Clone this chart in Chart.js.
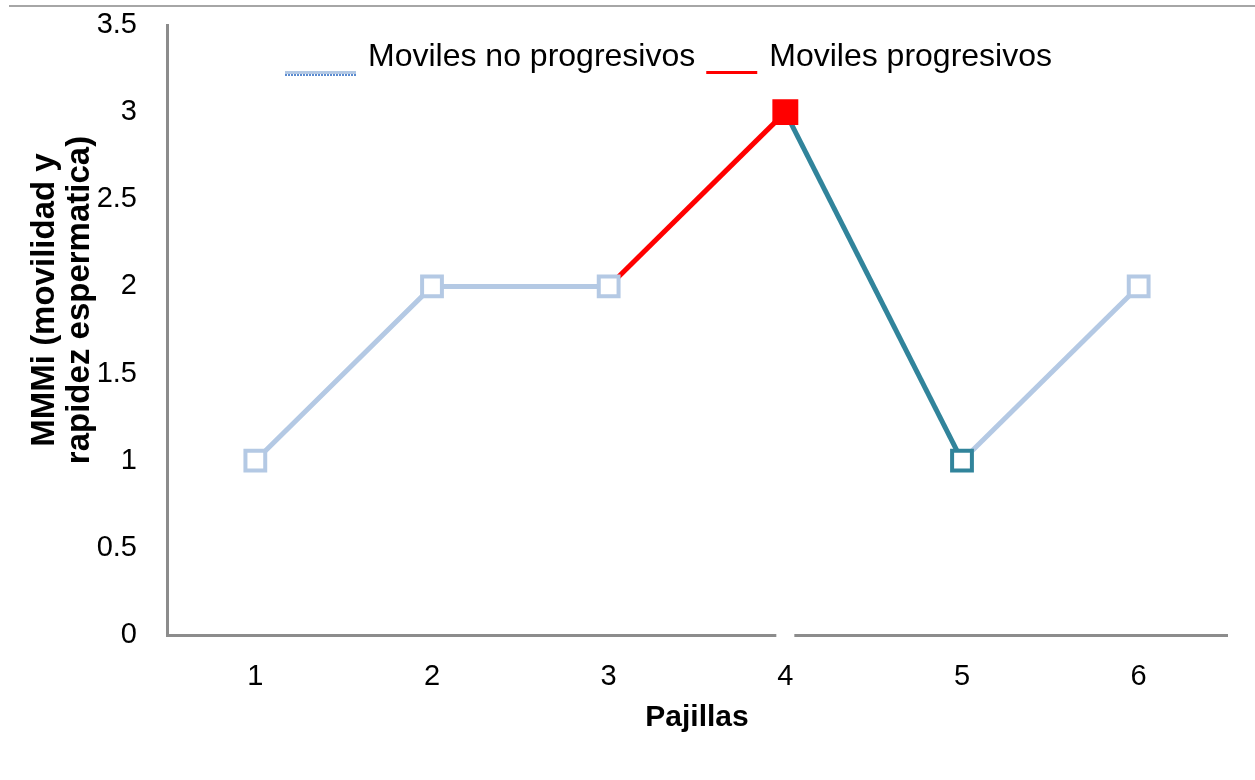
<!DOCTYPE html>
<html>
<head>
<meta charset="utf-8">
<script src="https://cdn.jsdelivr.net/npm/chart.js@4.4.1/dist/chart.umd.min.js"></script>
<style>
  html, body { margin: 0; padding: 0; background: #ffffff; }
  canvas { display: block; }
</style>
</head>
<body>
<canvas id="chart" width="1255" height="780"></canvas>
<script>
// ---- data ----
const pajillas = ['1', '2', '3', '4', '5', '6'];
const noProgresivos = [1, 2, 2, 3, 1, 2];
const progresivos = [null, null, 2, 3, null, null];
const yTicks = [0, 0.5, 1, 1.5, 2, 2.5, 3, 3.5];
const seriesNames = ['Moviles no progresivos', 'Moviles progresivos'];
const xTitle = 'Pajillas';
const yTitle = ['MMMi (movilidad y', 'rapidez espermatica)'];

// ---- styles ----
const LIGHT = '#b4c9e4';
const LIGHT_EDGE = '#5b8bd0';
const TEAL = '#31849b';
const RED = '#ff0000';
const AXIS = '#8c8c8c';
const FONT = "'Liberation Sans', Arial, sans-serif";

// colour of each segment, indexed by the segment's starting point
const segColours = [LIGHT, LIGHT, 'rgba(0,0,0,0)', TEAL, LIGHT];
const ptBorder = [LIGHT, LIGHT, LIGHT, RED, TEAL, LIGHT];
const ptFill = ['#ffffff', '#ffffff', '#ffffff', RED, '#ffffff', '#ffffff'];
const ptRadius = [14, 14, 14, 15.5, 14, 14];

// legend, titles and frame details drawn on the canvas
const decorations = {
  id: 'decorations',
  afterDraw(chart) {
    const ctx = chart.ctx;
    const ca = chart.chartArea;
    const xs = chart.scales.x;
    ctx.save();

    // thin rule across the top
    ctx.strokeStyle = '#a6a6a6';
    ctx.lineWidth = 2;
    ctx.beginPath();
    ctx.moveTo(9, 6);
    ctx.lineTo(chart.width, 6);
    ctx.stroke();

    // small break in the category axis under the peak
    const px = xs.getPixelForValue(3);
    ctx.fillStyle = '#ffffff';
    ctx.fillRect(px - 9, ca.bottom - 4, 18, 8);

    // legend
    ctx.font = '32px ' + FONT;
    ctx.textBaseline = 'middle';
    ctx.textAlign = 'left';
    const yText = ca.top + 32.5;
    const yLine = ca.top + 47.5;
    let x = ca.left + 118;
    const items = [
      { label: seriesNames[0], colour: LIGHT, len: 71, edge: true },
      { label: seriesNames[1], colour: RED, len: 51, edge: false }
    ];
    items.forEach((it) => {
      ctx.lineWidth = 3;
      ctx.strokeStyle = it.colour;
      ctx.beginPath();
      ctx.moveTo(x, yLine);
      ctx.lineTo(x + it.len, yLine);
      ctx.stroke();
      if (it.edge) {
        ctx.lineWidth = 2;
        ctx.strokeStyle = LIGHT_EDGE;
        ctx.setLineDash([2, 1]);
        ctx.beginPath();
        ctx.moveTo(x, yLine + 2.5);
        ctx.lineTo(x + it.len, yLine + 2.5);
        ctx.stroke();
        ctx.setLineDash([]);
      }
      x += it.len + 12;
      ctx.fillStyle = '#000000';
      ctx.fillText(it.label, x, yText);
      x += ctx.measureText(it.label).width + 11;
    });

    // axis titles
    ctx.font = 'bold 30px ' + FONT;
    ctx.textAlign = 'center';
    ctx.fillStyle = '#000000';
    ctx.fillText(xTitle, (ca.left + ca.right) / 2, ca.bottom + 83);

    ctx.translate(0, ca.top + 275);
    ctx.rotate(-Math.PI / 2);
    ctx.font = 'bold 33px ' + FONT;
    ctx.fillText(yTitle[0], 0, 45);
    ctx.fillText(yTitle[1], 0, 80);

    ctx.restore();
  }
};

new Chart(document.getElementById('chart'), {
  type: 'line',
  data: {
    labels: pajillas,
    datasets: [
      {
        label: seriesNames[0],
        data: noProgresivos,
        borderColor: LIGHT,
        borderWidth: 5,
        segment: { borderColor: (c) => segColours[c.p0DataIndex] },
        pointStyle: 'rect',
        pointRadius: ptRadius,
        pointHoverRadius: ptRadius,
        pointBorderWidth: 4,
        pointBorderColor: ptBorder,
        pointBackgroundColor: ptFill,
        tension: 0
      },
      {
        label: seriesNames[1],
        data: progresivos,
        borderColor: RED,
        borderWidth: 5,
        pointRadius: 0,
        pointHoverRadius: 0,
        tension: 0
      }
    ]
  },
  options: {
    responsive: false,
    animation: false,
    events: [],
    layout: { padding: { top: 25, right: 28, left: 0, bottom: 0 } },
    plugins: {
      legend: { display: false },
      tooltip: { enabled: false }
    },
    scales: {
      x: {
        type: 'category',
        offset: true,
        grid: { display: false, drawTicks: false },
        border: { display: true, color: AXIS, width: 3 },
        ticks: { color: '#000000', font: { family: FONT, size: 29 }, padding: 25 },
        afterFit(s) { s.height = 145; }
      },
      y: {
        min: 0,
        max: 3.5,
        grid: { display: false, drawTicks: false },
        border: { display: true, color: AXIS, width: 3 },
        ticks: {
          color: '#000000',
          font: { family: FONT, size: 29 },
          padding: 30,
          callback: (v) => String(v)
        },
        afterBuildTicks(s) { s.ticks = yTicks.map((v) => ({ value: v })); },
        afterFit(s) {
          s.width = 167;
          s.paddingTop = 0;
          s.paddingBottom = 0;
        }
      }
    }
  },
  plugins: [decorations]
});
</script>
</body>
</html>
